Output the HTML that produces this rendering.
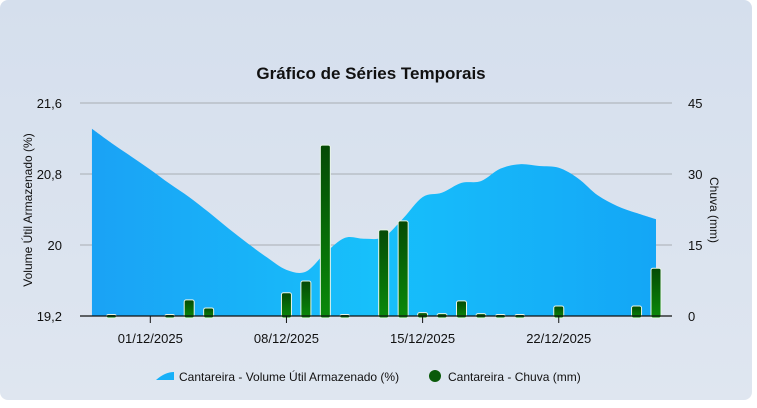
<!DOCTYPE html>
<html><head><meta charset="utf-8"><style>
body{margin:0;width:757px;height:403px;overflow:hidden;background:#fff;font-family:"Liberation Sans",sans-serif}
#card{position:absolute;left:0;top:0;width:752px;height:400px;border-radius:8px;background:linear-gradient(180deg,#d5dfed,#dfe6f0)}
</style></head><body>
<div id="card">
<svg id="chart" width="757" height="403"></svg>
</div>
<script>
const dates=['28/11','29/11','30/11','01/12','02/12','03/12','04/12','05/12','06/12','07/12','08/12','09/12','10/12','11/12','12/12','13/12','14/12','15/12','16/12','17/12','18/12','19/12','20/12','21/12','22/12','23/12','24/12','25/12','26/12','27/12'];
const volume=[21.31,21.15,21.0,20.85,20.69,20.54,20.37,20.19,20.02,19.86,19.72,19.70,19.91,20.08,20.07,20.09,20.30,20.54,20.59,20.70,20.72,20.86,20.91,20.89,20.87,20.75,20.56,20.44,20.36,20.29];
const rain=[0,0.1,0,0,0.1,3.4,1.7,0,0,0,4.9,7.4,36.1,0.1,0,18.2,20.1,0.7,0.5,3.2,0.5,0.1,0.1,0,2.1,0,0,0,2.1,10.1];
const leftTicks=['19,2','20','20,8','21,6'];
const leftVals=[19.2,20,20.8,21.6];
const rightTicks=['0','15','30','45'];
const rightVals=[0,15,30,45];
const xTickLabels=['01/12/2025','08/12/2025','15/12/2025','22/12/2025'];
const xTickIdx=[3,10,17,24];

const NS='http://www.w3.org/2000/svg';
const svg=document.getElementById('chart');
const X0=80,X1=672,Y0=316,Y1=103;
const x=i=>150.3+(i-3)*19.45;
const yL=v=>Y0-(v-19.2)/(21.6-19.2)*(Y0-Y1);
const yR=v=>Y0-v/45*(Y0-Y1);
function mk(t,a,p){const e=document.createElementNS(NS,t);for(const k in a)e.setAttribute(k,a[k]);(p||svg).appendChild(e);return e;}
svg.innerHTML='<defs><linearGradient id="ag" x1="0" y1="0" x2="1" y2="0"><stop offset="0" stop-color="#1aa2f5"/><stop offset="0.5" stop-color="#17c0fb"/><stop offset="1" stop-color="#14a6f6"/></linearGradient><linearGradient id="bg" x1="0" y1="0" x2="0" y2="1"><stop offset="0" stop-color="#054a05"/><stop offset="1" stop-color="#0a8a0a"/></linearGradient></defs>';
let t=mk('text',{x:371,y:79,'text-anchor':'middle','font-size':17,'font-weight':'bold',fill:'#111'});t.textContent='Gráfico de Séries Temporais';

leftVals.forEach((v,k)=>{
 if(k>0){const g=mk('line',{x1:X0,x2:X1,y1:yL(v),y2:yL(v),stroke:'#a8adb3','stroke-width':1});}
 const l=mk('text',{x:62,y:yL(v)+5,'text-anchor':'end','font-size':13,fill:'#111'});l.textContent=leftTicks[k];
 
});
rightVals.forEach((v,k)=>{
 const l=mk('text',{x:688,y:yR(v)+5,'font-size':13,fill:'#111'});l.textContent=rightTicks[k];
 
});
// area path (catmull-rom)
const pts=volume.map((v,i)=>[x(i),yL(v)]);
let d='M'+pts[0][0]+','+Y0+' L'+pts[0][0]+','+pts[0][1];
for(let i=0;i<pts.length-1;i++){const p0=pts[Math.max(0,i-1)],p1=pts[i],p2=pts[i+1],p3=pts[Math.min(pts.length-1,i+2)];
 d+=' C'+(p1[0]+(p2[0]-p0[0])/6)+','+(p1[1]+(p2[1]-p0[1])/6)+' '+(p2[0]-(p3[0]-p1[0])/6)+','+(p2[1]-(p3[1]-p1[1])/6)+' '+p2[0]+','+p2[1];}
d+=' L'+pts[pts.length-1][0]+','+Y0+' Z';
const area=mk('path',{d:d,fill:'url(#ag)'});

rain.forEach((v,i)=>{
 if(v<=0)return;const h=Math.max(Y0-yR(v),1.5);
 const b=mk('rect',{x:x(i)-5,y:Y0-h,width:10,height:h+2,rx:2,fill:'url(#bg)',stroke:'#e8f5e8','stroke-width':1});
 
});
const ax=mk('line',{x1:X0,x2:X1,y1:Y0,y2:Y0,stroke:'#111','stroke-width':1.3});

xTickIdx.forEach((i,k)=>{
 mk('line',{x1:x(i),x2:x(i),y1:Y0,y2:Y0+7,stroke:'#111','stroke-width':1});
 const l=mk('text',{x:x(i),y:343,'text-anchor':'middle','font-size':13,fill:'#111'});l.textContent=xTickLabels[k];
 
});
let a1=mk('text',{x:0,y:0,transform:'translate(32,210) rotate(-90)','text-anchor':'middle','font-size':12,fill:'#111'});a1.textContent='Volume Útil Armazenado (%)';

let a2=mk('text',{x:0,y:0,transform:'translate(710,210) rotate(90)','text-anchor':'middle','font-size':12,fill:'#111'});a2.textContent='Chuva (mm)';

const lg1=mk('path',{d:'M156,380 Q165,372 174,372 L174,380 Z',fill:'#17b0f8'});

let l1=mk('text',{x:179,y:381,'font-size':12,fill:'#111'});l1.textContent='Cantareira - Volume Útil Armazenado (%)';

const lg2=mk('circle',{cx:435,cy:376,r:6,fill:'#0a5a0a'});

let l2=mk('text',{x:448,y:381,'font-size':12,fill:'#111'});l2.textContent='Cantareira - Chuva (mm)';

</script>
</body></html>
